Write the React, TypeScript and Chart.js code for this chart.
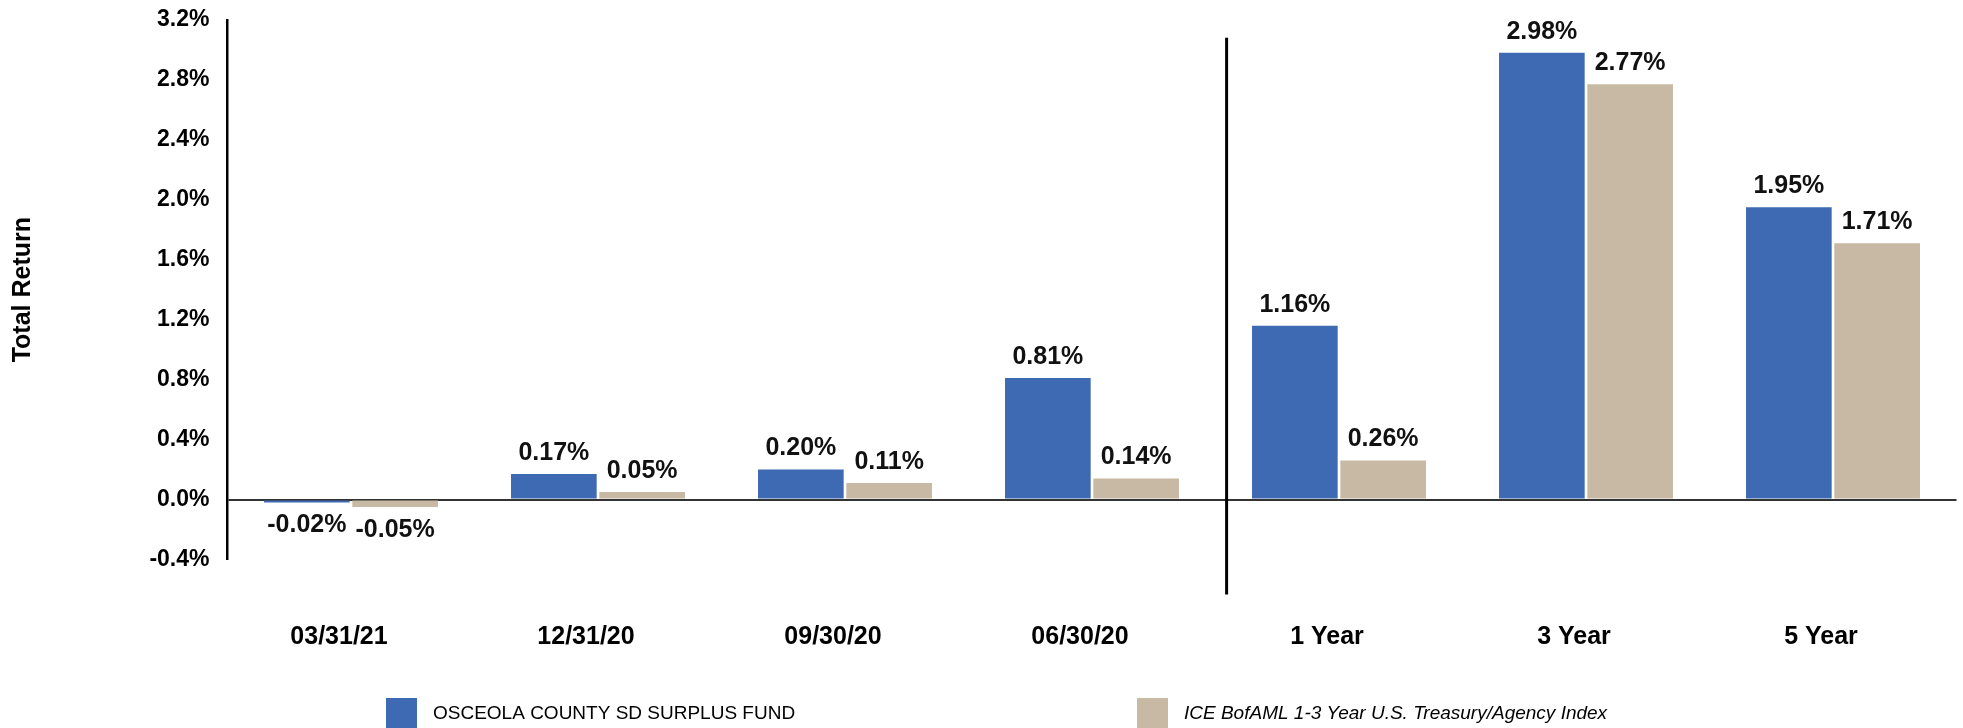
import React, { useEffect, useRef } from "react";
import { Chart, registerables } from "chart.js";

Chart.register(...registerables);

const categories = ["03/31/21", "12/31/20", "09/30/20", "06/30/20", "1 Year", "3 Year", "5 Year"];
const fundValues = [-0.02, 0.17, 0.2, 0.81, 1.16, 2.98, 1.95];
const indexValues = [-0.05, 0.05, 0.11, 0.14, 0.26, 2.77, 1.71];
const fundLabel = "OSCEOLA COUNTY SD SURPLUS FUND";
const indexLabel = "ICE BofAML 1-3 Year U.S. Treasury/Agency Index";
const yTicksMin = -0.4;
const yTicksMax = 3.2;
const yTickStep = 0.4;
const yTitle = "Total Return";

const BLUE = "#3E6AB3";
const TAN = "#C8B9A5";
const FONT = "'Liberation Sans', Arial, Helvetica, sans-serif";

const dataLabelPlugin = {
  id: "dataLabels",
  afterDatasetsDraw(chart: any) {
    const ctx = chart.ctx;
    ctx.save();
    ctx.font = `bold 25px ${FONT}`;
    ctx.fillStyle = "#111";
    ctx.textAlign = "center";
    ctx.textBaseline = "middle";
    chart.data.datasets.forEach((ds: any, di: number) => {
      const meta = chart.getDatasetMeta(di);
      meta.data.forEach((bar: any, i: number) => {
        const v = ds.data[i];
        const txt = v.toFixed(2) + "%";
        const y = v >= 0 ? bar.y - 21 : bar.y + 23;
        ctx.fillText(txt, bar.x, y);
      });
    });
    ctx.restore();
  },
};

const dividerPlugin = {
  id: "divider",
  afterDatasetsDraw(chart: any) {
    const ctx = chart.ctx;
    const xs = chart.scales.x;
    const a = xs.getPixelForValue(3);
    const b = xs.getPixelForValue(4);
    const x = a + 0.545 * (b - a);
    const top = chart.chartArea.top + 18;
    const bottom = chart.chartArea.bottom + 35;
    ctx.save();
    ctx.strokeStyle = "#000";
    ctx.lineWidth = 3;
    ctx.beginPath();
    ctx.moveTo(x, top);
    ctx.lineTo(x, bottom);
    ctx.stroke();
    ctx.restore();
  },
};

const legendPlugin = {
  id: "customLegend",
  afterDraw(chart: any) {
    const ctx = chart.ctx;
    ctx.save();
    const items = [
      { color: BLUE, text: fundLabel, sx: 386, tx: 433, italic: false },
      { color: TAN, text: indexLabel, sx: 1137, tx: 1184, italic: true },
    ];
    items.forEach((it) => {
      ctx.fillStyle = it.color;
      ctx.fillRect(it.sx, 698, 31, 30);
      ctx.fillStyle = "#000";
      ctx.font = `${it.italic ? "italic " : ""}19px ${FONT}`;
      ctx.textAlign = "left";
      ctx.textBaseline = "middle";
      ctx.fillText(it.text, it.tx, 714);
    });
    ctx.restore();
  },
};

export default function App() {
  const ref = useRef<HTMLCanvasElement | null>(null);

  useEffect(() => {
    document.body.style.margin = "0";
    const canvas = ref.current;
    if (!canvas) return;
    const chart = new Chart(canvas, {
      type: "bar",
      data: {
        labels: categories,
        datasets: [
          {
            label: fundLabel,
            data: fundValues,
            backgroundColor: BLUE,
            borderWidth: 0,
            categoryPercentage: 0.715,
            barPercentage: 0.97,
          },
          {
            label: indexLabel,
            data: indexValues,
            backgroundColor: TAN,
            borderWidth: 0,
            categoryPercentage: 0.715,
            barPercentage: 0.97,
          },
        ],
      },
      options: {
        responsive: false,
        animation: false,
        devicePixelRatio: 1,
        layout: { padding: { left: 0, right: 6.5, top: 19.8, bottom: 0 } },
        plugins: {
          legend: { display: false },
          tooltip: { enabled: false },
        },
        scales: {
          x: {
            grid: { display: false, drawTicks: false },
            border: { display: false },
            ticks: {
              color: "#000",
              font: { family: FONT, size: 25, weight: "bold" },
              padding: 63,
              labelOffset: -12,
              maxRotation: 0,
              autoSkip: false,
            },
            afterFit: (s: any) => {
              s.height = 168.5;
              s.paddingLeft = 0;
              s.paddingRight = 0;
            },
          },
          y: {
            min: yTicksMin,
            max: yTicksMax,
            ticks: {
              stepSize: yTickStep,
              color: "#000",
              font: { family: FONT, size: 23, weight: "bold" },
              padding: 18,
              callback: (v: any) => Number(v).toFixed(1) + "%",
            },
            grid: {
              drawTicks: false,
              color: (c: any) => (c.tick && Math.abs(c.tick.value) < 1e-9 ? "#333" : "rgba(0,0,0,0)"),
              lineWidth: (c: any) => (c.tick && Math.abs(c.tick.value) < 1e-9 ? 2 : 0),
            },
            border: { display: true, color: "#000", width: 2.5 },
            title: {
              display: true,
              text: yTitle,
              color: "#000",
              font: { family: FONT, size: 25, weight: "bold" },
              padding: { top: 8, bottom: 0 },
            },
            afterFit: (s: any) => {
              s.width = 227.5;
              s.paddingTop = 0;
              s.paddingBottom = 0;
            },
          },
        },
      },
      plugins: [dataLabelPlugin, dividerPlugin, legendPlugin],
    });
    return () => chart.destroy();
  }, []);

  return (
    <div style={{ width: 1963, height: 728, background: "#fff" }}>
      <canvas ref={ref} width={1963} height={728} style={{ display: "block" }} />
    </div>
  );
}
